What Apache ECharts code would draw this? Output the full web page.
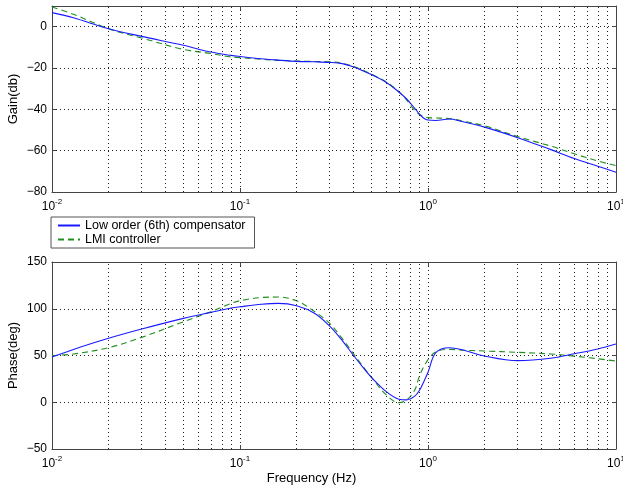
<!DOCTYPE html>
<html><head><meta charset="utf-8">
<script src="https://cdn.jsdelivr.net/npm/echarts@6/dist/echarts.min.js"></script>
<style>html,body{margin:0;padding:0;background:#fff}#c{width:623px;height:491px}</style>
</head><body><div id="c"></div>
<script>
// Frequencies (Hz) at which the curves were read
const freqHz = [0.01,0.013,0.02,0.03,0.05,0.07,0.09,0.1,0.13,0.16,0.2,0.25,0.3,0.35,0.4,0.45,0.5,0.6,0.7,0.77,0.85,0.9,0.95,1.0,1.1,1.3,1.5,2,3,4.5,6,8,10];
// Gain (dB)
const gainLowOrder = [6.8,4.3,-1,-4.7,-9.0,-12.3,-13.9,-14.4,-15.5,-16.2,-16.8,-17.0,-17.3,-17.9,-19.4,-21.3,-23.2,-27.0,-31.6,-35,-39.5,-42.3,-44.3,-45.2,-45.4,-44.7,-45.8,-48.6,-53.7,-59.5,-63.8,-67.5,-70.4];
const gainLMI      = [9.5,6,-1,-5.5,-11,-13,-14.7,-15,-15.8,-16.3,-16.6,-16.8,-17,-17.7,-19.2,-21,-23,-26.7,-31.5,-35.5,-40.5,-42.5,-43.5,-44,-44.2,-44.5,-45.5,-48,-53.2,-57.8,-61.5,-65,-67.2];
// Phase (deg)
const phaseLowOrder = [48.4,56.5,68.4,78.3,89.7,96.1,100.8,102.1,104.8,105.8,103.2,95,81.5,66,50.5,37.5,26.7,11.3,3.2,2.5,6.5,12.5,22,32,53,58.3,56.4,49.5,44.5,47,51.8,57,62.3];
const phaseLMI      = [50,51.6,58.4,69.4,86.1,96.8,105.8,108.6,112,112.5,108.5,96.8,84.4,68,52.4,38.5,26.7,7.8,-0.4,2.5,13,28,38,45.5,54,56.6,55.8,54.8,53.4,51.6,49.3,46.5,44.1];
// Axis ticks
const minorGridFreqs = [0.02,0.03,0.04,0.05,0.06,0.07,0.08,0.09,0.2,0.3,0.4,0.5,0.6,0.7,0.8,0.9,2,3,4,5,6,7,8,9];
const seriesNames = ['Low order (6th) compensator','LMI controller'];

const FONT = "'Liberation Sans', Arial, sans-serif";
const GRIDLINE = {color:'#222', type:[1,3], width:1};
const BOX = {show:true, onZero:false, lineStyle:{color:'#444', width:1}};
const pairs = (ys) => freqHz.map((f,i)=>[f, ys[i]]);

function xAxisDef(gridIndex, top) {
  return {
    type:'log', logBase:10, min:0.01, max:10, gridIndex,
    position: top ? 'top' : 'bottom',
    axisLine: BOX,
    axisTick:{show:true, inside:true, length:4, lineStyle:{color:'#444'}},
    splitLine: top ? {show:false} : {show:true, showMinLine:false, showMaxLine:false, lineStyle:GRIDLINE},
    axisLabel: top ? {show:false} : {
      show:true, margin:6, fontFamily:FONT,
      formatter: v => '{b|10}{e|' + Math.round(Math.log10(v)) + '}',
      rich:{
        b:{fontSize:12, color:'#000', fontFamily:FONT},
        e:{fontSize:8, color:'#000', fontFamily:FONT, padding:[0,0,9,0]}
      }
    }
  };
}
function yAxisDef(gridIndex, right, min, max, interval, name) {
  return {
    type:'value', gridIndex, min, max, interval,
    position: right ? 'right' : 'left',
    axisLine: BOX,
    axisTick:{show:true, inside:true, length:4, lineStyle:{color:'#444'}},
    splitLine: right ? {show:false} : {show:true, showMinLine:false, showMaxLine:false, lineStyle:GRIDLINE},
    axisLabel: right ? {show:false} : {
      show:true, margin:5, color:'#000', fontSize:12, fontFamily:FONT,
      formatter: v => (v > max - 1e-9 && max % interval !== 0) ? '' : (v < 0 ? '\u2212' + Math.abs(v) : String(v))
    },
    name: right ? '' : name,
    nameLocation:'middle', nameGap:32, nameRotate:90, nameMoveOverlap:false,
    nameTextStyle:{color:'#000', fontSize:13, fontFamily:FONT}
  };
}

function lineSeries(name, xi, yi, ys, color, dashed, z) {
  return {
    name, type:'line', xAxisIndex:xi, yAxisIndex:yi, data:pairs(ys),
    showSymbol:false, symbol:'none', smooth:0.35, z,
    lineStyle:{color, width:1.1, type: dashed ? [6,4] : 'solid'},
    itemStyle:{color}
  };
}
function gridSeries(xi, yi) {
  return {
    type:'line', xAxisIndex:xi, yAxisIndex:yi, data:[], silent:true, z:1,
    markLine:{silent:true, symbol:'none', animation:false, label:{show:false},
      lineStyle:GRIDLINE, data: minorGridFreqs.map(f => ({xAxis:f}))}
  };
}

const option = {
  backgroundColor:'#fff',
  animation:false,
  textStyle:{fontFamily:FONT},
  grid:[
    {left:52, top:6, width:564, height:186, outerBoundsMode:'none', containLabel:false},
    {left:52, top:262, width:564, height:187, outerBoundsMode:'none', containLabel:false}
  ],
  xAxis:[ xAxisDef(0,false), xAxisDef(0,true), xAxisDef(1,false), xAxisDef(1,true) ],
  yAxis:[
    yAxisDef(0,false,-80,10,20,'Gain(db)'), yAxisDef(0,true,-80,10,20,''),
    yAxisDef(1,false,-50,150,50,'Phase(deg)'), yAxisDef(1,true,-50,150,50,'')
  ],
  legend:{
    data:seriesNames, orient:'vertical', left:51, top:217,
    itemWidth:22, itemHeight:10, itemGap:1,
    padding:[2,9,2,6], borderColor:'#555', borderWidth:1, backgroundColor:'#fff',
    itemStyle:{opacity:0},
    textStyle:{fontSize:12.5, color:'#000', fontFamily:FONT}, selectedMode:false, z:10
  },
  graphic:[{
    type:'text', left:'center', top:472,
    style:{text:'Frequency (Hz)', fontSize:13, fontFamily:FONT, fill:'#000'}
  }],
  series:[
    gridSeries(0,0), gridSeries(2,2),
    lineSeries(seriesNames[1],0,0,gainLMI,'#1f8f1f',true,3),
    lineSeries(seriesNames[0],0,0,gainLowOrder,'#1a1aff',false,4),
    lineSeries(seriesNames[1],2,2,phaseLMI,'#1f8f1f',true,3),
    lineSeries(seriesNames[0],2,2,phaseLowOrder,'#1a1aff',false,4)
  ]
};
const chart = echarts.init(document.getElementById('c'), null, {renderer:'canvas'});
chart.setOption(option);
</script>
</body></html>
